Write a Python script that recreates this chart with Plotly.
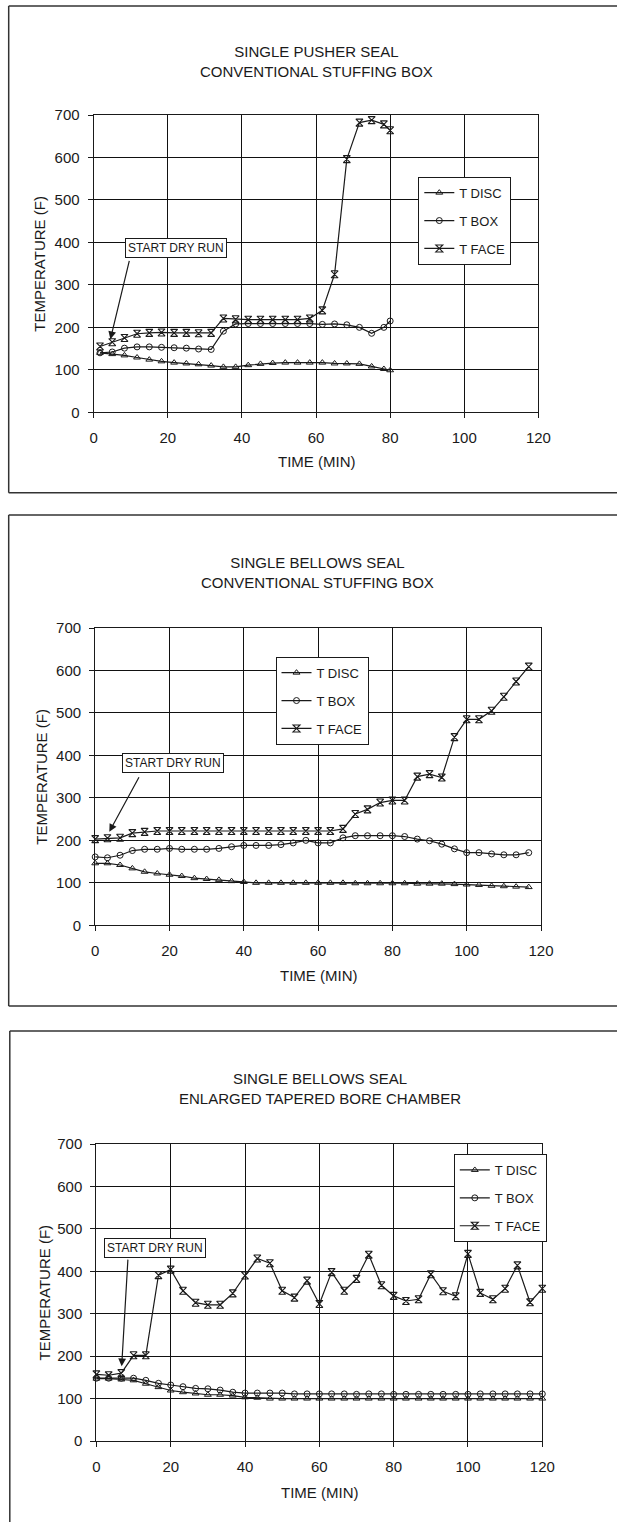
import plotly.graph_objects as go

W, H = 617, 1522
FONT = "Liberation Sans, Arial, Helvetica, sans-serif"
INK = "#1a1a1a"

# ---------------- data ----------------
# Panel 1: single pusher seal, conventional stuffing box
time1 = [1.7, 5, 8.3, 11.7, 15, 18.3, 21.7, 25, 28.3, 31.7, 35, 38.3, 41.7, 45,
         48.3, 51.7, 55, 58.3, 61.7, 65, 68.3, 71.7, 75, 78.3, 80]
tdisc1 = [140, 137, 134, 129, 124, 120, 117, 115, 113, 110, 107, 107, 111, 114,
          116, 117, 117, 117, 117, 115, 115, 114, 108, 102, 99]
tbox1 = [140, 142, 151, 154, 154, 153, 152, 151, 149, 148, 191, 208, 209, 209,
         209, 209, 209, 209, 207, 208, 206, 200, 186, 200, 215]
tface1 = [155, 165, 175, 185, 187, 188, 187, 187, 186, 187, 221, 219, 218, 218,
          218, 218, 218, 221, 240, 325, 596, 682, 688, 678, 664]

# Panel 2: single bellows seal, conventional stuffing box
time2 = [0, 3.3, 6.7, 10, 13.3, 16.7, 20, 23.3, 26.7, 30, 33.3, 36.7, 40, 43.3,
         46.7, 50, 53.3, 56.7, 60, 63.3, 66.7, 70, 73.3, 76.7, 80, 83.3, 86.7,
         90, 93.3, 96.7, 100, 103.3, 106.7, 110, 113.3, 116.7]
tdisc2 = [146, 146, 142, 134, 126, 122, 119, 116, 111, 109, 107, 104, 102, 100,
          100, 100, 100, 100, 100, 100, 100, 99, 99, 99, 99, 99, 98, 98, 98, 97,
          96, 95, 93, 92, 91, 90]
tbox2 = [161, 159, 165, 176, 179, 179, 181, 179, 179, 179, 181, 185, 188, 188,
         188, 190, 194, 200, 194, 194, 206, 211, 211, 211, 211, 209, 203, 199,
         191, 180, 171, 171, 168, 166, 166, 171]
tface2 = [203, 205, 206, 217, 220, 222, 222, 222, 222, 222, 222, 222, 222, 222,
          222, 222, 222, 222, 222, 222, 227, 262, 273, 289, 294, 294, 350, 356,
          348, 443, 485, 485, 505, 538, 574, 609]

# Panel 3: single bellows seal, enlarged tapered bore chamber
time3 = [0, 3.3, 6.7, 10, 13.3, 16.7, 20, 23.3, 26.7, 30, 33.3, 36.7, 40, 43.3,
         46.7, 50, 53.3, 56.7, 60, 63.3, 66.7, 70, 73.3, 76.7, 80, 83.3, 86.7,
         90, 93.3, 96.7, 100, 103.3, 106.7, 110, 113.3, 116.7, 120]
tdisc3 = [147, 147, 145, 143, 135, 127, 119, 115, 112, 109, 109, 107, 103, 102,
          100, 100, 100, 100, 100, 100, 100, 100, 100, 100, 100, 100, 100, 100,
          100, 100, 100, 100, 100, 100, 100, 100, 100]
tbox3 = [148, 148, 148, 148, 143, 136, 132, 128, 124, 123, 120, 115, 113, 113,
         113, 113, 111, 111, 111, 111, 111, 110, 111, 111, 110, 110, 110, 110,
         110, 110, 110, 111, 111, 111, 111, 111, 111]
tface3 = [157, 155, 160, 202, 202, 391, 404, 354, 326, 321, 321, 348, 390, 430,
          419, 354, 338, 378, 323, 398, 354, 382, 439, 367, 342, 330, 334, 393,
          353, 341, 441, 349, 334, 359, 414, 327, 359]

series_names = ["T DISC", "T BOX", "T FACE"]
titles = ["SINGLE PUSHER SEAL<br>CONVENTIONAL STUFFING BOX",
          "SINGLE BELLOWS SEAL<br>CONVENTIONAL STUFFING BOX",
          "SINGLE BELLOWS SEAL<br>ENLARGED TAPERED BORE CHAMBER"]
x_ticks = [0, 20, 40, 60, 80, 100, 120]
y_ticks = [0, 100, 200, 300, 400, 500, 600, 700]
note_text = "START DRY RUN"
# annotation box centre, arrow start and arrow tip (data units) per panel
note_box = [(22.2, 386), (21.0, 381), (15.8, 454)]
arrow_from = [(9.7, 360), (12.0, 352), (8.5, 431)]
arrow_to = [(4.5, 172), (3.8, 220), (6.8, 176)]

panels = [
    (time1, tdisc1, tbox1, tface1),
    (time2, tdisc2, tbox2, tface2),
    (time3, tdisc3, tbox3, tface3),
]

# ---------------- layout geometry (pixels) ----------------
plot_px = [  # x0, x1, y_top(700), y_bottom(0)
    (93.7, 538.4, 115.0, 412.3),
    (95.2, 541.0, 628.0, 925.3),
    (96.4, 542.3, 1144.0, 1441.0),
]
frame_px = [  # left, top, bottom (None = off page)
    (8.7, 6.0, 492.7),
    (8.7, 515.0, 1006.0),
    (9.8, 1031.0, None),
]
title_px = [(316.5, 61.2), (318.0, 572.5), (320.0, 1088.4)]
ytitle_px = [40.0, 42.0, 44.0]
xtitle_py = [461.7, 975.0, 1492.0]
legend_px = [(418.3, 176.7), (275.5, 656.7), (453.8, 1154.0)]


def px(x):
    return x / W


def py(y):
    return 1 - y / H


markers = [
    dict(symbol="triangle-up-open", size=6, color=INK, line=dict(width=1, color=INK)),
    dict(symbol="circle-open", size=6, color=INK, line=dict(width=1, color=INK)),
    dict(symbol="hourglass-open", size=7, color=INK, line=dict(width=1.1, color=INK)),
]

fig = go.Figure()
annotations = []
shapes = []
layout_axes = {}

for i, (t, d, b, f) in enumerate(panels):
    k = "" if i == 0 else str(i + 1)
    xa, ya = "x" + k, "y" + k
    lg = "legend" + k
    for j, (vals, name) in enumerate(zip((d, b, f), series_names)):
        fig.add_trace(go.Scatter(
            x=t, y=vals, name=name, mode="lines+markers",
            xaxis=xa, yaxis=ya, legend=lg, legendgroup=f"{i}-{j}",
            line=dict(color=INK, width=1.2), marker=markers[j],
            cliponaxis=False, showlegend=True,
        ))
    x0, x1, yt, yb = plot_px[i]
    axis_common = dict(
        showline=True, linecolor=INK, linewidth=1.2, mirror=True,
        showgrid=True, gridcolor="#111111", gridwidth=1.2, zeroline=False,
        ticks="outside", ticklen=5, tickcolor=INK, tickwidth=1,
        tickfont=dict(family=FONT, size=15, color=INK),
        automargin=False, fixedrange=True,
    )
    layout_axes["xaxis" + k] = dict(
        axis_common, domain=[px(x0), px(x1)], anchor=ya, range=[0, 120],
        tickvals=x_ticks, ticklabelstandoff=7,
    )
    layout_axes["yaxis" + k] = dict(
        axis_common, domain=[py(yb), py(yt)], anchor=xa, range=[0, 700],
        tickvals=y_ticks, ticklabelstandoff=5,
    )
    layout_axes[lg] = dict(
        x=px(legend_px[i][0]), y=py(legend_px[i][1]), xanchor="left", yanchor="top",
        bgcolor="white", bordercolor=INK, borderwidth=1,
        font=dict(family=FONT, size=13, color=INK),
        tracegroupgap=8, traceorder="grouped",
    )
    # panel title
    annotations.append(dict(
        text=titles[i], xref="paper", yref="paper",
        x=px(title_px[i][0]), y=py(title_px[i][1]), xanchor="center", yanchor="middle",
        showarrow=False, font=dict(family=FONT, size=15, color=INK),
    ))
    # axis titles
    annotations.append(dict(
        text="TEMPERATURE (F)", xref="paper", yref="paper",
        x=px(ytitle_px[i]), y=py((yt + yb) / 2), textangle=-90,
        xanchor="center", yanchor="middle", showarrow=False,
        font=dict(family=FONT, size=15, color=INK),
    ))
    annotations.append(dict(
        text="TIME (MIN)", xref="paper", yref="paper",
        x=px((x0 + x1) / 2), y=py(xtitle_py[i]),
        xanchor="center", yanchor="middle", showarrow=False,
        font=dict(family=FONT, size=15, color=INK),
    ))
    # START DRY RUN box and arrow
    annotations.append(dict(
        text=note_text, xref=xa, yref=ya, x=note_box[i][0], y=note_box[i][1],
        showarrow=False, bgcolor="white", bordercolor=INK, borderwidth=1,
        borderpad=2, font=dict(family=FONT, size=12, color=INK),
    ))
    annotations.append(dict(
        text="", xref=xa, yref=ya, x=arrow_to[i][0], y=arrow_to[i][1],
        axref=xa, ayref=ya, ax=arrow_from[i][0], ay=arrow_from[i][1],
        showarrow=True, arrowhead=2, arrowsize=1.3, arrowwidth=1.2,
        arrowcolor=INK, standoff=0,
    ))
    # outer frame
    fl, ft, fb = frame_px[i]
    frame_line = dict(color="#333333", width=1.5)
    shapes.append(dict(type="line", xref="paper", yref="paper",
                       x0=px(fl), x1=1.02, y0=py(ft), y1=py(ft), line=frame_line))
    shapes.append(dict(type="line", xref="paper", yref="paper",
                       x0=px(fl), x1=px(fl), y0=py(ft),
                       y1=py(fb) if fb is not None else -0.01, line=frame_line))
    if fb is not None:
        shapes.append(dict(type="line", xref="paper", yref="paper",
                           x0=px(fl), x1=1.02, y0=py(fb), y1=py(fb), line=frame_line))

fig.update_layout(
    width=W, height=H, autosize=False,
    margin=dict(l=0, r=0, t=0, b=0),
    paper_bgcolor="white", plot_bgcolor="white",
    font=dict(family=FONT, color=INK),
    annotations=annotations, shapes=shapes,
    **layout_axes,
)

fig.write_html("out.html", config={"displayModeBar": False})
